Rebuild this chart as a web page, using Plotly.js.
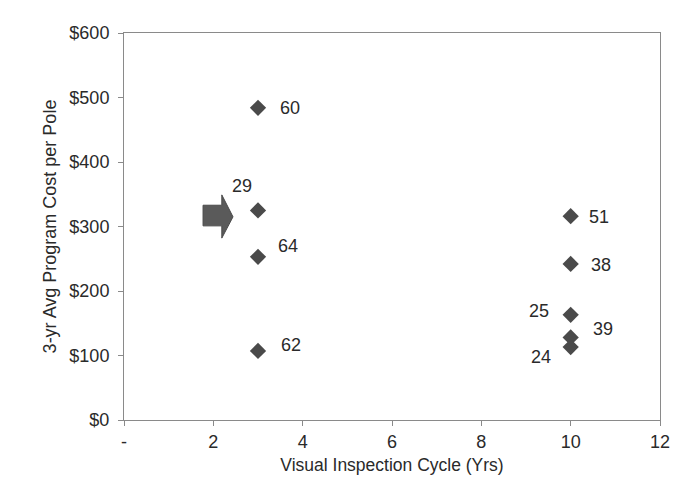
<!DOCTYPE html>
<html>
<head>
<meta charset="utf-8">
<script src="https://cdn.plot.ly/plotly-3.0.1.min.js"></script>
<style>html,body{margin:0;padding:0;background:#fff;}#chart{width:675px;height:485px;}</style>
</head>
<body>
<div id="chart"></div>
<script>
// Data
const cycleYears = [3, 3, 3, 3, 10, 10, 10, 10, 10];
const costPerPole = [484, 325, 253, 107, 316, 242, 163, 128, 113];
const pointLabels = ['60', '29', '64', '62', '51', '38', '25', '39', '24'];
const xTickVals = [0, 2, 4, 6, 8, 10, 12];
const xTickText = ['-', '2', '4', '6', '8', '10', '12'];
const yTickVals = [0, 100, 200, 300, 400, 500, 600];
const yTickText = ['$0', '$100', '$200', '$300', '$400', '$500', '$600'];

// label offsets (pixels) - styling only
const labelOffsets = [
  [32, 0], [-16, 24], [30, 11], [33, 6], [28, -1], [30, -1], [-32, 4], [32, 8], [-30, -10]
];

const FONT = 'Liberation Sans, Arial, sans-serif';

const trace = {
  x: cycleYears,
  y: costPerPole,
  mode: 'markers',
  type: 'scatter',
  marker: {symbol: 'diamond', size: 12.5, color: '#4a4a4a', line: {width: 0}},
  hoverinfo: 'skip'
};

const annotations = pointLabels.map((t, i) => ({
  x: cycleYears[i], y: costPerPole[i], xref: 'x', yref: 'y',
  text: t, showarrow: false,
  xshift: labelOffsets[i][0], yshift: labelOffsets[i][1],
  font: {family: FONT, size: 18, color: '#2a2a2a'}
}));

// block arrow pointing to the 29 point
const arrowPath = 'M 1.77 333 L 2.19 333 L 2.19 349 L 2.44 315 L 2.19 282 L 2.19 301 L 1.77 301 Z';

const layout = {
  width: 675, height: 485,
  margin: {l: 124, r: 15, t: 33, b: 65},
  paper_bgcolor: '#ffffff',
  plot_bgcolor: '#ffffff',
  showlegend: false,
  font: {family: FONT, size: 18, color: '#2a2a2a'},
  xaxis: {
    range: [0, 12], tickvals: xTickVals, ticktext: xTickText,
    showgrid: false, zeroline: false,
    showline: true, linecolor: '#8a8a8a', linewidth: 1, mirror: true,
    ticks: 'outside', ticklen: 5, tickcolor: '#8a8a8a',
    tickfont: {family: FONT, size: 18, color: '#2a2a2a'},
    title: {text: 'Visual Inspection Cycle (Yrs)', font: {family: FONT, size: 17.5, color: '#2a2a2a'}, standoff: 8}
  },
  yaxis: {
    range: [0, 600], tickvals: yTickVals, ticktext: yTickText,
    showgrid: false, zeroline: false,
    showline: true, linecolor: '#8a8a8a', linewidth: 1, mirror: true,
    ticks: 'outside', ticklen: 5, tickcolor: '#8a8a8a', ticklabelstandoff: 5,
    tickfont: {family: FONT, size: 18, color: '#2a2a2a'},
    title: {text: '3-yr Avg Program Cost per Pole', font: {family: FONT, size: 18, color: '#2a2a2a'}, standoff: 8}
  },
  shapes: [{
    type: 'path', xref: 'x', yref: 'y', path: arrowPath,
    fillcolor: '#5a5a5a', line: {color: '#4a4a4a', width: 1}
  }],
  annotations: annotations
};

Plotly.newPlot('chart', [trace], layout, {displayModeBar: false, staticPlot: true});
</script>
</body>
</html>
